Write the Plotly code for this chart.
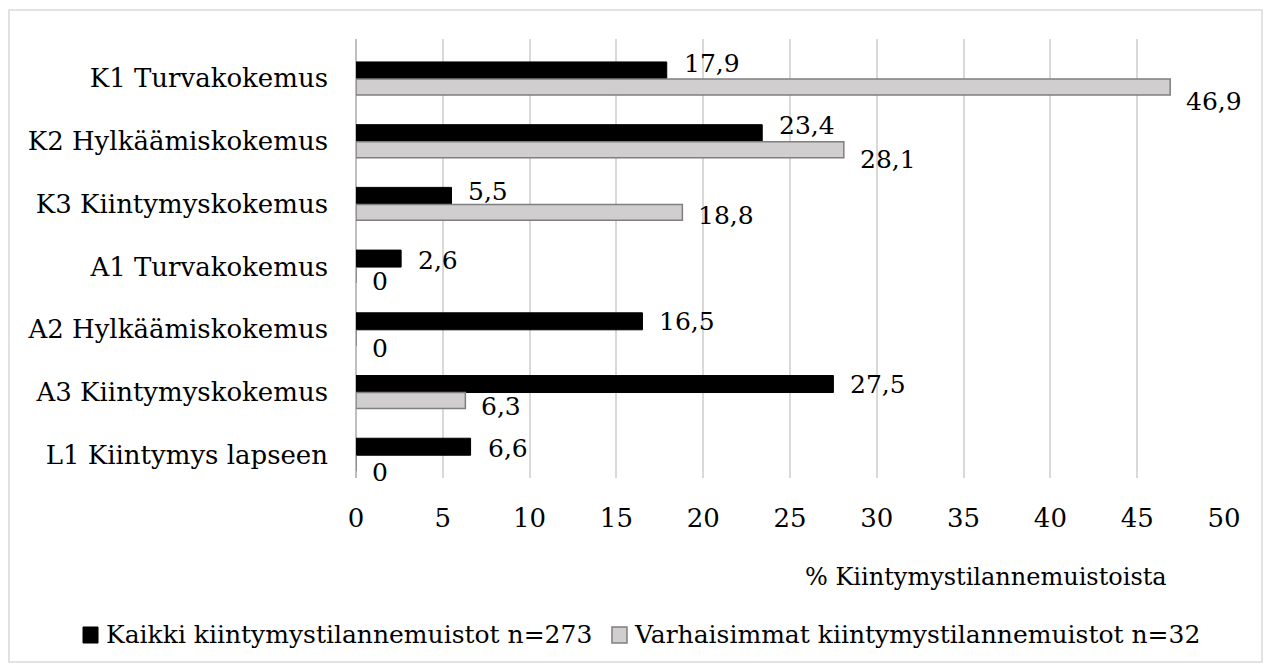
import plotly.graph_objects as go

categories = ["K1 Turvakokemus", "K2 Hylkäämiskokemus", "K3 Kiintymyskokemus",
              "A1 Turvakokemus", "A2 Hylkäämiskokemus", "A3 Kiintymyskokemus",
              "L1 Kiintymys lapseen"]
all_memories = [17.9, 23.4, 5.5, 2.6, 16.5, 27.5, 6.6]
earliest_memories = [46.9, 28.1, 18.8, 0, 0, 6.3, 0]
series_names = ["Kaikki kiintymystilannemuistot n=273",
                "Varhaisimmat kiintymystilannemuistot n=32"]
x_ticks = [0, 5, 10, 15, 20, 25, 30, 35, 40, 45, 50]
x_title = "% Kiintymystilannemuistoista"

FONT = "DejaVu Serif"
FS = 26
BLACK = "#000000"
GRAY = "#d0cece"
GRAY_EDGE = "#7f7f7f"

# bar geometry within each category slot (category units, axis reversed)
BLACK_OFFSET, BLACK_WIDTH = -0.134, 0.271
GRAY_OFFSET, GRAY_WIDTH = 0.137, 0.255
# vertical nudges of value labels (pixels, positive = down)
black_label_nudge = [-7, -8, -4, 2, 0, 0, 2]
gray_label_nudge = [15, 10, 3, 6, 11, 6, 9]

def fmt(v):
    return f"{v:g}".replace(".", ",")

fig = go.Figure()
fig.add_trace(go.Bar(y=categories, x=all_memories, orientation="h", name=series_names[0],
                     offset=BLACK_OFFSET, width=BLACK_WIDTH,
                     marker=dict(color=BLACK, line=dict(color=BLACK, width=1))))
fig.add_trace(go.Bar(y=categories, x=earliest_memories, orientation="h", name=series_names[1],
                     offset=GRAY_OFFSET, width=GRAY_WIDTH,
                     marker=dict(color=GRAY, line=dict(color=GRAY_EDGE, width=1.5))))

for i, c in enumerate(categories):
    fig.add_annotation(x=all_memories[i], y=i + BLACK_OFFSET + BLACK_WIDTH / 2,
                       text=fmt(all_memories[i]), showarrow=False,
                       xanchor="left", yanchor="middle", xshift=15, yshift=-black_label_nudge[i],
                       font=dict(family=FONT, size=25, color="#000"))
    fig.add_annotation(x=earliest_memories[i], y=i + GRAY_OFFSET + GRAY_WIDTH / 2,
                       text=fmt(earliest_memories[i]), showarrow=False,
                       xanchor="left", yanchor="middle", xshift=14, yshift=-gray_label_nudge[i],
                       font=dict(family=FONT, size=25, color="#000"))

# axis title
fig.add_annotation(x=0.515, y=-0.2255, xref="paper", yref="paper", text=x_title, showarrow=False,
                   xanchor="left", yanchor="middle", font=dict(family=FONT, size=24, color="#000"))

# legend (drawn manually to match layout)
leg_y0, leg_y1, leg_yc = -0.3759, -0.3394, -0.3576
fig.add_shape(type="rect", xref="paper", yref="paper", x0=-0.3145, x1=-0.2972, y0=leg_y0, y1=leg_y1,
              fillcolor=BLACK, line=dict(color=BLACK, width=1))
fig.add_annotation(x=-0.2903, y=leg_yc, xref="paper", yref="paper", text=series_names[0],
                   showarrow=False, xanchor="left", yanchor="middle",
                   font=dict(family=FONT, size=25, color="#000"))
fig.add_shape(type="rect", xref="paper", yref="paper", x0=0.2949, x1=0.3122, y0=leg_y0, y1=leg_y1,
              fillcolor=GRAY, line=dict(color=GRAY_EDGE, width=1.5))
fig.add_annotation(x=0.318, y=leg_yc, xref="paper", yref="paper", text=series_names[1],
                   showarrow=False, xanchor="left", yanchor="middle",
                   font=dict(family=FONT, size=25, color="#000"))

# outer chart border
fig.add_shape(type="rect", xref="paper", yref="paper", x0=-0.3998, x1=1.0438, y0=-0.4191, y1=1.0661,
              line=dict(color="#d9d9d9", width=1.5), fillcolor="rgba(0,0,0,0)", layer="below")

fig.update_layout(
    width=1263, height=664,
    margin=dict(l=348, r=47, t=31, b=194, autoexpand=False),
    paper_bgcolor="white", plot_bgcolor="white",
    barmode="overlay",
    font=dict(family=FONT, size=FS, color="#000"),
    showlegend=False,
)
fig.update_xaxes(range=[0, 50], tickvals=x_ticks, ticktext=[str(t) for t in x_ticks],
                 showgrid=True, gridcolor="#d9d9d9", gridwidth=1.5, zeroline=True,
                 zerolinecolor="#bfbfbf", zerolinewidth=1.5, showline=False, automargin=False,
                 ticklabelstandoff=22, tickfont=dict(family=FONT, size=FS, color="#000"))
fig.update_yaxes(autorange="reversed", showgrid=False, ticklabelstandoff=27, ticklabelshift=-8,
                 automargin=False, tickfont=dict(family=FONT, size=FS, color="#000"))

fig.write_html("out.html")
